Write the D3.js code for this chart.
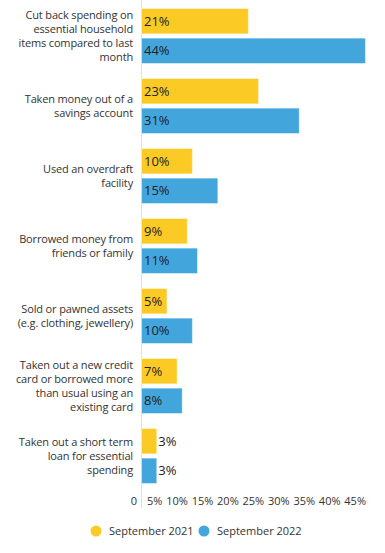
<!DOCTYPE html>
<html><head><meta charset="utf-8">
<script src="https://cdn.jsdelivr.net/npm/d3@7"></script>
<style>
body{margin:0;background:#fff;}
svg{display:block;font-family:"Open Sans",sans-serif;}
</style></head><body>
<svg id="chart" width="385" height="553"></svg>
<script>
const categories = [
  ["Cut back spending on","essential household","items compared to last","month"],
  ["Taken money out of a","savings account"],
  ["Used an overdraft","facility"],
  ["Borrowed money from","friends or family"],
  ["Sold or pawned assets","(e.g. clothing, jewellery)"],
  ["Taken out a new credit","card or borrowed more","than usual using an","existing card"],
  ["Taken out a short term","loan for essential","spending"]
];
const seriesNames = ["September 2021","September 2022"];
const sep2021 = [21,23,10,9,5,7,3];
const sep2022 = [44,31,15,11,10,8,3];
const ticks = [0,5,10,15,20,25,30,35,40,45];
const colors = ["#FCCA25","#42A5DC"];

const svg = d3.select("#chart");
const x = d3.scaleLinear().domain([0,45]).range([141,370]);
const y0 = d3.scaleBand().domain(d3.range(categories.length)).range([1,491]).paddingInner(0.2).paddingOuter(0.1);
const y1 = d3.scaleBand().domain([0,1]).range([0,y0.bandwidth()]).paddingInner(0.11);

svg.append("line").attr("x1",x(0)+0.5).attr("x2",x(0)+0.5).attr("y1",0).attr("y2",508)
  .attr("stroke","#e0e0e0").attr("stroke-width",1);

const data = categories.map((c,i)=>({c, vals:[sep2021[i],sep2022[i]]}));
const g = svg.selectAll("g.grp").data(data).join("g").attr("class","grp")
  .attr("transform",(d,i)=>`translate(0,${y0(i)})`);

g.each(function(d){
  const gg = d3.select(this);
  d.vals.forEach((v,k)=>{
    const yy = y1(k);
    gg.append("rect").attr("x",x(0)+0.5).attr("y",yy+0.5)
      .attr("width",x(v)-x(0)).attr("height",y1.bandwidth()-1)
      .attr("fill",colors[k]).attr("stroke","rgba(255,255,255,0.45)").attr("stroke-width",1);
    const w = x(v)-x(0);
    const inside = w > 24;
    gg.append("text").attr("x", inside ? x(0)+3 : x(v)+2)
      .attr("y", yy + y1.bandwidth()/2).attr("dy","0.36em")
      .attr("font-size",13).attr("fill","#222").text(v+"%");
  });
  const lines = d.c;
  const lh = 14;
  const cy = y0.bandwidth()/2;
  const t = gg.append("text").attr("text-anchor","end").attr("font-size",11).attr("fill","#333").attr("letter-spacing","-0.15");
  lines.forEach((ln,j)=>{
    t.append("tspan").attr("x",133).attr("y", cy + (j-(lines.length-1)/2)*lh).attr("dy","0.36em").text(ln);
  });
});

svg.append("g").selectAll("text").data(ticks).join("text")
  .attr("x",d=>x(d)-4).attr("y",501).attr("dy","0.36em").attr("text-anchor","end")
  .attr("font-size",11).attr("fill","#333")
  .text(d=> d===0 ? "0" : d+"%");

const legend = [{x:96,name:seriesNames[0],c:colors[0]},{x:204,name:seriesNames[1],c:colors[1]}];
const lg = svg.append("g").selectAll("g").data(legend).join("g");
lg.append("circle").attr("cx",d=>d.x).attr("cy",531).attr("r",5.5).attr("fill",d=>d.c);
lg.append("text").attr("x",d=>d.x+13).attr("y",531).attr("dy","0.36em").attr("font-size",11).attr("fill","#333").text(d=>d.name);
</script>
</body></html>
